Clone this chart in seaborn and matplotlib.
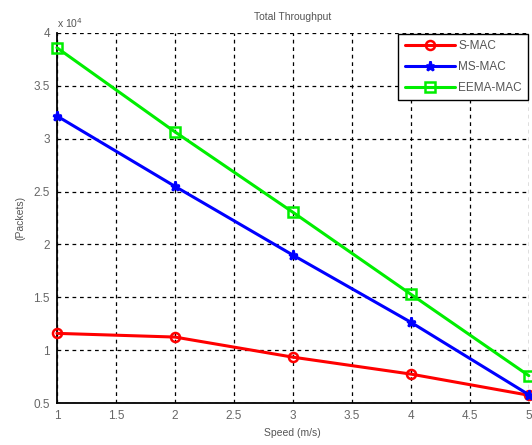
import matplotlib
matplotlib.use('Agg')
import matplotlib.pyplot as plt
from matplotlib.ticker import FuncFormatter
import seaborn as sns
import pandas as pd

# dados
speed = [1, 2, 3, 4, 5]
smac = [11600, 11250, 9350, 7750, 5750]
msmac = [32150, 25500, 19000, 12650, 5800]
eemamac = [38600, 30650, 23050, 15300, 7600]

series = ['S-MAC', 'MS-MAC', 'EEMA-MAC']
cores = {'S-MAC': '#ff0000', 'MS-MAC': '#0000ff', 'EEMA-MAC': '#00ee00'}
marcadores = {'S-MAC': 'o', 'MS-MAC': '*', 'EEMA-MAC': 's'}

df = pd.DataFrame({
    'speed': speed * 3,
    'valor': smac + msmac + eemamac,
    'mac': [s for s in series for _ in speed],
})

sns.set_style('white')
plt.rcParams['font.family'] = ['Liberation Sans', 'DejaVu Sans']

fig = plt.figure(figsize=(5.32, 4.45), dpi=100)
ax = fig.add_axes([0.107, 0.094, 0.887, 0.832])

for s in series:
    sub = df[df['mac'] == s]
    sns.lineplot(data=sub, x='speed', y='valor', ax=ax, color=cores[s],
                 marker=marcadores[s], markersize=6.5,
                 markerfacecolor='none' if s != 'MS-MAC' else cores[s],
                 markeredgecolor=cores[s], markeredgewidth=1.8,
                 linewidth=2.2, label=s, clip_on=False, zorder=3)

ax.set_xlim(1, 5)
ax.set_ylim(5000, 40000)
ax.set_xticks([1, 1.5, 2, 2.5, 3, 3.5, 4, 4.5, 5])
ax.set_yticks([5000, 10000, 15000, 20000, 25000, 30000, 35000, 40000])
ax.xaxis.set_major_formatter(FuncFormatter(lambda v, p: f'{v:g}'))
ax.yaxis.set_major_formatter(FuncFormatter(lambda v, p: f'{v / 1e4:g}'))
ax.text(0.0, 1.012, r'x 10$^4$', transform=ax.transAxes, fontsize=7.5, color='#555555')

ax.grid(True, color='black', linestyle=(0, (3, 3)), linewidth=0.9)
for lado in ['top', 'right']:
    ax.spines[lado].set_visible(False)
for lado in ['left', 'bottom']:
    ax.spines[lado].set_color('black')
    ax.spines[lado].set_linewidth(1.3)
ax.tick_params(axis='both', labelsize=8.5, colors='#666666', length=0, pad=5)

ax.set_title('Total Throughput', fontsize=7.5, color='#555555', pad=9)
ax.set_xlabel('Speed (m/s)', fontsize=7.5, color='#555555', labelpad=4)
ax.set_ylabel('(Packets)', fontsize=7.5, color='#555555', labelpad=6)

leg = ax.legend(loc='upper right', fontsize=8.5, frameon=True, fancybox=False,
                borderaxespad=0.05, handlelength=4.2, labelspacing=0.75,
                borderpad=0.55, handletextpad=0.3, framealpha=1)
leg.get_frame().set_edgecolor('black')
leg.get_frame().set_linewidth(1.0)
for t in leg.get_texts():
    t.set_color('#555555')

fig.savefig('out.png', dpi=100)
